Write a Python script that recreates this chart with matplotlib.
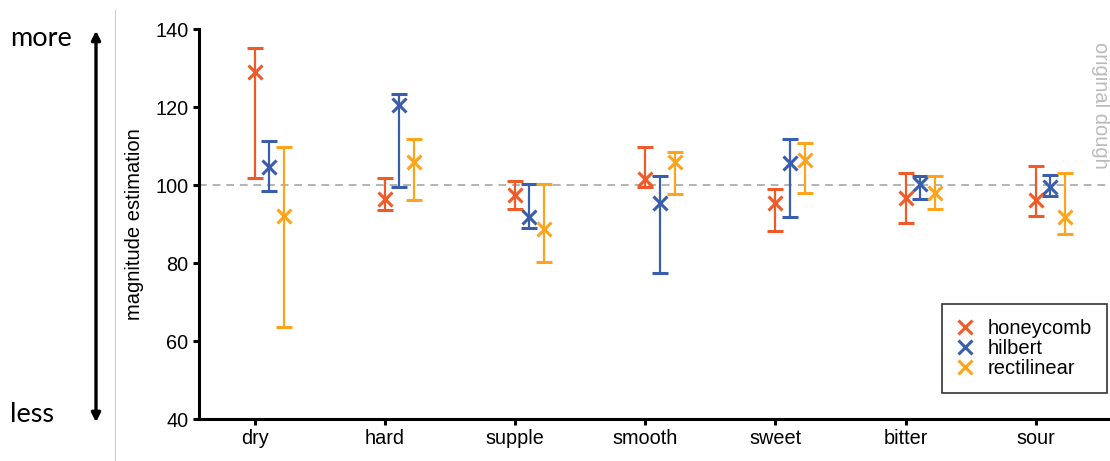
import numpy as np
import matplotlib.pyplot as plt
from matplotlib.lines import Line2D
from matplotlib.patches import FancyArrowPatch

plt.rcParams['font.family'] = ['Liberation Sans', 'DejaVu Sans']

categories = ['dry', 'hard', 'supple', 'smooth', 'sweet', 'bitter', 'sour']
series = ['honeycomb', 'hilbert', 'rectilinear']
colors = ['#F05A28', '#3A5DAE', '#FBA41C']

# centre, upper end, lower end of each bar
honeycomb_mid = [129.1, 96.3, 97.4, 101.5, 95.3, 96.6, 96.2]
honeycomb_hi = [135.1, 101.9, 101.0, 109.8, 99.0, 103.0, 104.9]
honeycomb_lo = [101.7, 93.6, 93.8, 99.6, 88.2, 90.3, 92.1]

hilbert_mid = [104.7, 120.5, 91.9, 95.3, 105.6, 100.2, 99.4]
hilbert_hi = [111.4, 123.3, 100.2, 102.3, 111.8, 102.3, 102.7]
hilbert_lo = [98.6, 99.6, 89.1, 77.4, 91.9, 96.5, 97.2]

rectilinear_mid = [92.1, 105.8, 88.7, 105.8, 106.4, 97.9, 91.9]
rectilinear_hi = [109.8, 111.7, 100.2, 108.5, 110.8, 102.3, 103.0]
rectilinear_lo = [63.7, 96.2, 80.3, 97.6, 97.9, 93.9, 87.4]

mids = [honeycomb_mid, hilbert_mid, rectilinear_mid]
his = [honeycomb_hi, hilbert_hi, rectilinear_hi]
los = [honeycomb_lo, hilbert_lo, rectilinear_lo]
offsets = [0.0, 0.11, 0.225]

fig = plt.figure(figsize=(11.1, 4.61), dpi=100)
ax = fig.add_axes([0.179, 0.091, 0.821, 0.846])

x = np.arange(len(categories))
for mid, hi, lo, off, c in zip(mids, his, los, offsets, colors):
    mid = np.array(mid)
    err = [mid - np.array(lo), np.array(hi) - mid]
    ax.errorbar(x + off, mid, yerr=err, fmt='x', color=c, ecolor=c,
                markersize=10, mew=2.2, elinewidth=1.6, capsize=5.5, capthick=1.6)

ax.axhline(100, color='#b3b3b3', ls=(0, (4, 3)), lw=1.4, zorder=0)
ax.text(6.5, 120.5, 'original dough', rotation=270, color='#bbbbbb',
        fontsize=14.5, ha='center', va='center')

ax.set_xlim(-0.43, 6.57)
ax.set_ylim(40, 140)
ax.set_yticks([40, 60, 80, 100, 120, 140])
ax.set_xticks(x)
ax.set_xticklabels(categories)
ax.tick_params(labelsize=14.3, width=2.2, length=4)
ax.set_ylabel('magnitude estimation', fontsize=14.5, labelpad=8)
for s in ['top', 'right']:
    ax.spines[s].set_visible(False)
for s in ['left', 'bottom']:
    ax.spines[s].set_linewidth(2.2)

handles = [Line2D([], [], marker='x', ls='none', color=c, markersize=10, mew=2.2)
           for c in colors]
leg = ax.legend(handles, series, loc='lower right', bbox_to_anchor=(0.9967, 0.067),
                fontsize=14.5, frameon=True, fancybox=False, handlelength=0.8,
                handletextpad=0.7, labelspacing=0.05, borderpad=0.75,
                borderaxespad=0)
leg.get_frame().set_edgecolor('black')
leg.get_frame().set_linewidth(1.2)

# left-hand scale hint
fig.text(10 / 1110, 1 - 38 / 461, 'more', fontsize=19.5, family='Lato',
         ha='left', va='center')
fig.text(10 / 1110, 1 - 414 / 461, 'less', fontsize=19.5, family='Lato',
         ha='left', va='center')
fig.add_artist(Line2D([115 / 1110, 115 / 1110], [1 - 10 / 461, 0],
                      color='#cccccc', lw=0.8))
fig.patches.append(FancyArrowPatch(
    (96 / 1110, 1 - 425 / 461), (96 / 1110, 1 - 28 / 461),
    transform=fig.transFigure, arrowstyle='<|-|>', mutation_scale=13,
    lw=2.4, color='black'))

fig.savefig('out.png', dpi=100)
